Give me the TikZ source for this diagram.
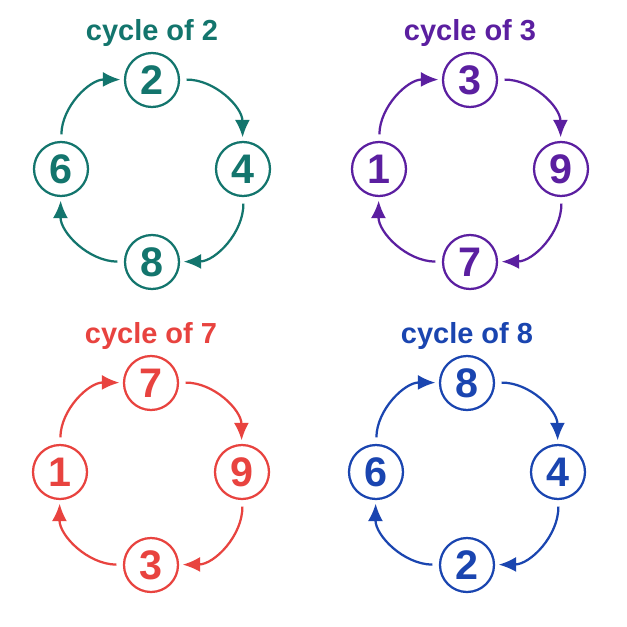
\documentclass[tikz,border=0pt]{standalone}
\usepackage{fontspec}
\setmainfont{Liberation Sans}
\usetikzlibrary{arrows.meta}
\definecolor{cycteal}{HTML}{13756D}
\definecolor{cycpurple}{HTML}{5B1FA0}
\definecolor{cycred}{HTML}{E8433F}
\definecolor{cycblue}{HTML}{1A45B0}
\tikzset{
  num/.style={circle, draw, line width=0.9mm, minimum size=21.6mm, inner sep=0pt,
    font=\fontsize{47}{47}\selectfont\bfseries},
  cyctitle/.style={anchor=base, font=\fontsize{33}{33}\selectfont\bfseries},
  cyc/.style={-{Latex[length=7mm,width=6mm]}, line width=0.9mm, bend left=45,
    shorten <=2.6mm, shorten >=1.4mm}
}
\begin{document}
\begin{tikzpicture}[x=0.4mm, y=-0.4mm]
\fill[white] (0,0) rectangle (627,627);
\useasboundingbox (0,0) rectangle (627,627);
% one panel per cycle: centre, colour, last digit, then top/right/bottom/left
\foreach \cx/\cy/\col/\n/\a/\b/\c/\d in {152/169/cycteal/2/2/4/8/6,
    470/169/cycpurple/3/3/9/7/1,
    151/472/cycred/7/7/9/3/1,
    467/472/cycblue/8/8/4/2/6}{
  \node[cyctitle, text=\col] (title\n) at (\cx,\cy-129) {cycle of \n};
  \node[num, \col] (t\n) at (\cx,\cy-89) {\a};
  \node[num, \col] (r\n) at (\cx+91,\cy) {\b};
  \node[num, \col] (b\n) at (\cx,\cy+93) {\c};
  \node[num, \col] (l\n) at (\cx-91,\cy) {\d};
  \draw[cyc, \col] (t\n) to (r\n);
  \draw[cyc, \col] (r\n) to (b\n);
  \draw[cyc, \col] (b\n) to (l\n);
  \draw[cyc, \col] (l\n) to (t\n);
}
\end{tikzpicture}
\end{document}
